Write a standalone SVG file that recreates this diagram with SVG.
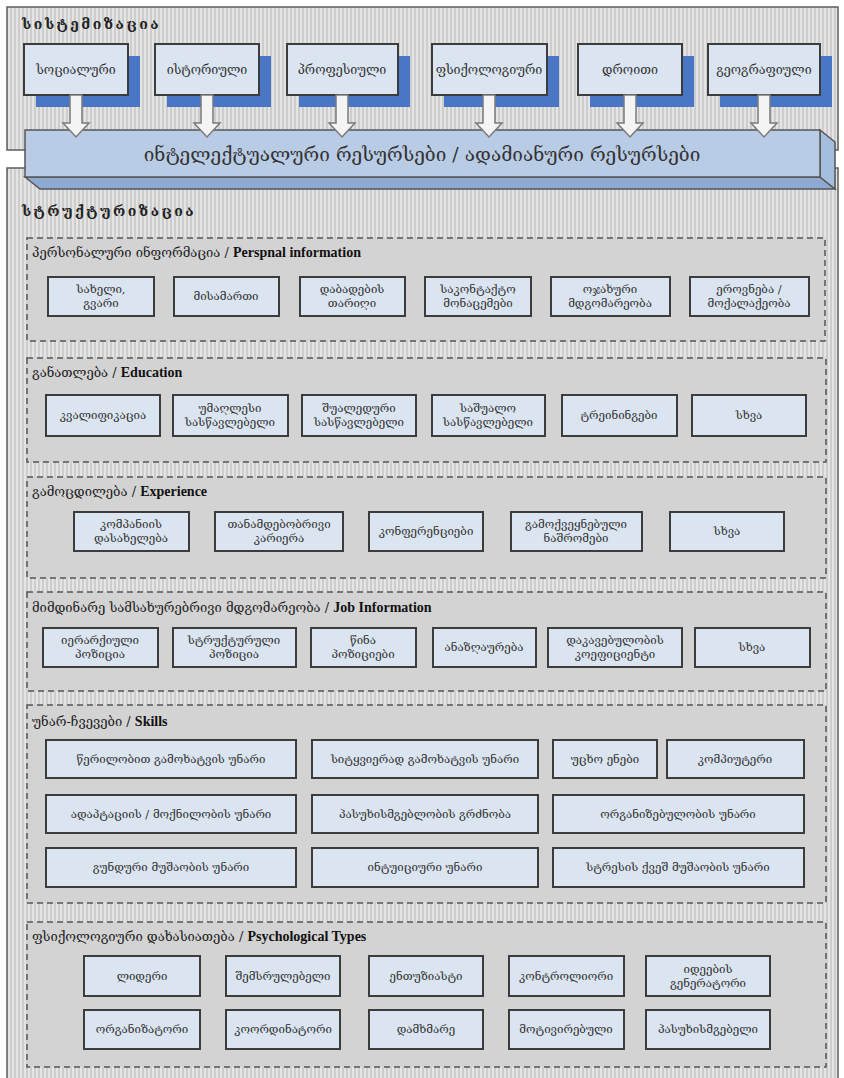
<svg xmlns="http://www.w3.org/2000/svg" width="844" height="1078" viewBox="0 0 844 1078">
<defs>
<pattern id="stripes" x="0" y="0" width="4" height="4" patternUnits="userSpaceOnUse">
<rect width="4" height="4" fill="#cdcdcd"/>
<rect x="0" width="2" height="4" fill="#e4e4e4"/>
</pattern>
<style>
.panel{fill:url(#stripes);stroke:#5e5e5e;stroke-width:1.5}
.sec{fill:#d3d3d3;stroke:#555;stroke-width:1.5;stroke-dasharray:6 4}
.box{fill:#dbe5f1;stroke:#3c3c3c;stroke-width:2}
.shadow{fill:#4a76c6}
.ka{font-family:"DejaVu Serif","DejaVu Sans",serif;fill:#333}
.bt{font-size:11.5px;text-anchor:middle}
.tt{font-size:12.5px;text-anchor:middle}
.title{font-size:13px;fill:#222}
.en{font-family:"Liberation Serif",serif;font-weight:bold;font-size:14px;fill:#111}
.head{font-size:14px;font-weight:bold;fill:#222;letter-spacing:2.5px}
.arrow{fill:#f4f4f4;stroke:#7a7a7a;stroke-width:1.5}
</style>
</defs>
<rect width="844" height="1078" fill="#ffffff"/>
<g id="top-panel">
<rect class="panel" x="7" y="7" width="831" height="143"/>
<text class="ka head" x="22" y="29">სისტემიზაცია</text>
</g>
<g id="bottom-panel">
<rect class="panel" x="7" y="168" width="831" height="920"/>
<text class="ka head" x="22" y="216">სტრუქტურიზაცია</text>
</g>
<g id="top-boxes">
<g id="t1"><rect class="shadow" x="36" y="56" width="104" height="51"/><rect class="box" x="24" y="44" width="104" height="51"/><text class="ka tt" x="76" y="74">სოციალური</text></g>
<g id="t2"><rect class="shadow" x="167" y="56" width="104" height="51"/><rect class="box" x="155" y="44" width="104" height="51"/><text class="ka tt" x="207" y="74">ისტორიული</text></g>
<g id="t3"><rect class="shadow" x="299" y="56" width="111" height="51"/><rect class="box" x="287" y="44" width="111" height="51"/><text class="ka tt" x="342" y="74">პროფესიული</text></g>
<g id="t4"><rect class="shadow" x="444" y="56" width="115" height="51"/><rect class="box" x="432" y="44" width="115" height="51"/><text class="ka tt" x="489" y="74">ფსიქოლოგიური</text></g>
<g id="t5"><rect class="shadow" x="590" y="56" width="104" height="51"/><rect class="box" x="578" y="44" width="104" height="51"/><text class="ka tt" x="630" y="74">დროითი</text></g>
<g id="t6"><rect class="shadow" x="720" y="56" width="112" height="51"/><rect class="box" x="708" y="44" width="112" height="51"/><text class="ka tt" x="764" y="74">გეოგრაფიული</text></g>
</g>
<g id="banner">
<polygon points="25,177 40,189 835,189 820,177" fill="#8eaad2" stroke="#555" stroke-width="1.5"/>
<polygon points="820,130 835,142 835,189 820,177" fill="#a4bede" stroke="#555" stroke-width="1.5"/>
<rect x="25" y="130" width="795" height="47" fill="#b9cce5" stroke="#555" stroke-width="1.5"/>
<text class="ka" x="422" y="161" font-size="19" text-anchor="middle" fill="#333">ინტელექტუალური რესურსები / ადამიანური რესურსები</text>
</g>
<g id="connectors">
<path class="arrow" d="M70,95 V123 H63 L76,137 L89,123 H82 V95 Z"/>
<path class="arrow" d="M201,95 V123 H194 L207,137 L220,123 H213 V95 Z"/>
<path class="arrow" d="M336,95 V123 H329 L342,137 L355,123 H348 V95 Z"/>
<path class="arrow" d="M483,95 V123 H476 L489,137 L502,123 H495 V95 Z"/>
<path class="arrow" d="M624,95 V123 H617 L630,137 L643,123 H636 V95 Z"/>
<path class="arrow" d="M758,95 V123 H751 L764,137 L777,123 H770 V95 Z"/>
</g>
<g id="sec-personal">
<rect class="sec" x="27" y="238" width="798" height="103"/>
<text class="ka title" x="32" y="257">პერსონალური ინფორმაცია / <tspan class="en">Perspnal information</tspan></text>
<rect class="box" x="48" y="277" width="106" height="39"/><text class="ka bt" x="101" y="293">სახელი,</text><text class="ka bt" x="101" y="307">გვარი</text>
<rect class="box" x="174" y="277" width="105" height="39"/><text class="ka bt" x="226" y="300">მისამართი</text>
<rect class="box" x="300" y="277" width="105" height="39"/><text class="ka bt" x="352" y="293">დაბადების</text><text class="ka bt" x="352" y="307">თარიღი</text>
<rect class="box" x="425" y="277" width="106" height="39"/><text class="ka bt" x="478" y="293">საკონტაქტო</text><text class="ka bt" x="478" y="307">მონაცემები</text>
<rect class="box" x="551" y="277" width="119" height="39"/><text class="ka bt" x="610" y="293">ოჯახური</text><text class="ka bt" x="610" y="307">მდგომარეობა</text>
<rect class="box" x="690" y="277" width="119" height="39"/><text class="ka bt" x="749" y="293">ეროვნება /</text><text class="ka bt" x="749" y="307">მოქალაქეობა</text>
</g>
<g id="sec-education">
<rect class="sec" x="27" y="358" width="799" height="104"/>
<text class="ka title" x="32" y="377">განათლება / <tspan class="en">Education</tspan></text>
<rect class="box" x="46" y="395" width="114" height="41"/><text class="ka bt" x="103" y="419">კვალიფიკაცია</text>
<rect class="box" x="173" y="395" width="115" height="41"/><text class="ka bt" x="230" y="412">უმაღლესი</text><text class="ka bt" x="230" y="426">სასწავლებელი</text>
<rect class="box" x="302" y="395" width="114" height="41"/><text class="ka bt" x="359" y="412">შუალედური</text><text class="ka bt" x="359" y="426">სასწავლებელი</text>
<rect class="box" x="432" y="395" width="113" height="41"/><text class="ka bt" x="488" y="412">საშუალო</text><text class="ka bt" x="488" y="426">სასწავლებელი</text>
<rect class="box" x="562" y="395" width="115" height="41"/><text class="ka bt" x="619" y="419">ტრეინინგები</text>
<rect class="box" x="692" y="395" width="114" height="41"/><text class="ka bt" x="749" y="419">სხვა</text>
</g>
<g id="sec-experience">
<rect class="sec" x="27" y="477" width="799" height="101"/>
<text class="ka title" x="32" y="496">გამოცდილება / <tspan class="en">Experience</tspan></text>
<rect class="box" x="74" y="512" width="115" height="39"/><text class="ka bt" x="131" y="528">კომპანიის</text><text class="ka bt" x="131" y="542">დასახელება</text>
<rect class="box" x="215" y="512" width="128" height="39"/><text class="ka bt" x="279" y="528">თანამდებობრივი</text><text class="ka bt" x="279" y="542">კარიერა</text>
<rect class="box" x="369" y="512" width="114" height="39"/><text class="ka bt" x="426" y="535">კონფერენციები</text>
<rect class="box" x="511" y="512" width="131" height="39"/><text class="ka bt" x="576" y="528">გამოქვეყნებული</text><text class="ka bt" x="576" y="542">ნაშრომები</text>
<rect class="box" x="670" y="512" width="114" height="39"/><text class="ka bt" x="727" y="535">სხვა</text>
</g>
<g id="sec-job">
<rect class="sec" x="27" y="592" width="799" height="99"/>
<text class="ka title" x="32" y="612">მიმდინარე სამსახურებრივი მდგომარეობა / <tspan class="en">Job Information</tspan></text>
<rect class="box" x="43" y="628" width="115" height="39"/><text class="ka bt" x="100" y="644">იერარქიული</text><text class="ka bt" x="100" y="658">პოზიცია</text>
<rect class="box" x="173" y="628" width="123" height="39"/><text class="ka bt" x="234" y="644">სტრუქტურული</text><text class="ka bt" x="234" y="658">პოზიცია</text>
<rect class="box" x="311" y="628" width="105" height="39"/><text class="ka bt" x="363" y="644">წინა</text><text class="ka bt" x="363" y="658">პოზიციები</text>
<rect class="box" x="433" y="628" width="103" height="39"/><text class="ka bt" x="484" y="651">ანაზღაურება</text>
<rect class="box" x="548" y="628" width="134" height="39"/><text class="ka bt" x="615" y="644">დაკავებულობის</text><text class="ka bt" x="615" y="658">კოეფიციენტი</text>
<rect class="box" x="695" y="628" width="115" height="39"/><text class="ka bt" x="752" y="651">სხვა</text>
</g>
<g id="sec-skills">
<rect class="sec" x="27" y="705" width="799" height="198"/>
<text class="ka title" x="32" y="726">უნარ-ჩვევები / <tspan class="en">Skills</tspan></text>
<rect class="box" x="46" y="740" width="250" height="38"/><text class="ka bt" x="171" y="763">წერილობით გამოხატვის უნარი</text>
<rect class="box" x="312" y="740" width="226" height="38"/><text class="ka bt" x="425" y="763">სიტყვიერად გამოხატვის უნარი</text>
<rect class="box" x="553" y="740" width="104" height="38"/><text class="ka bt" x="605" y="763">უცხო ენები</text>
<rect class="box" x="667" y="740" width="137" height="38"/><text class="ka bt" x="735" y="763">კომპიუტერი</text>
<rect class="box" x="46" y="795" width="250" height="38"/><text class="ka bt" x="171" y="818">ადაპტაციის / მოქნილობის უნარი</text>
<rect class="box" x="312" y="795" width="226" height="38"/><text class="ka bt" x="425" y="818">პასუხისმგებლობის გრძნობა</text>
<rect class="box" x="553" y="795" width="251" height="38"/><text class="ka bt" x="678" y="818">ორგანიზებულობის უნარი</text>
<rect class="box" x="46" y="848" width="250" height="39"/><text class="ka bt" x="171" y="871">გუნდური მუშაობის უნარი</text>
<rect class="box" x="312" y="848" width="226" height="39"/><text class="ka bt" x="425" y="871">ინტუიციური უნარი</text>
<rect class="box" x="553" y="848" width="251" height="39"/><text class="ka bt" x="678" y="871">სტრესის ქვეშ მუშაობის უნარი</text>
</g>
<g id="sec-psych">
<rect class="sec" x="27" y="922" width="799" height="145"/>
<text class="ka title" x="32" y="941">ფსიქოლოგიური დახასიათება / <tspan class="en">Psychological Types</tspan></text>
<rect class="box" x="84" y="956" width="116" height="40"/><text class="ka bt" x="142" y="980">ლიდერი</text>
<rect class="box" x="226" y="956" width="114" height="40"/><text class="ka bt" x="283" y="980">შემსრულებელი</text>
<rect class="box" x="369" y="956" width="114" height="40"/><text class="ka bt" x="426" y="980">ენთუზიასტი</text>
<rect class="box" x="509" y="956" width="115" height="40"/><text class="ka bt" x="566" y="980">კონტროლიორი</text>
<rect class="box" x="646" y="956" width="124" height="40"/><text class="ka bt" x="708" y="973">იდეების</text><text class="ka bt" x="708" y="987">გენერატორი</text>
<rect class="box" x="84" y="1010" width="116" height="39"/><text class="ka bt" x="142" y="1033">ორგანიზატორი</text>
<rect class="box" x="226" y="1010" width="114" height="39"/><text class="ka bt" x="283" y="1033">კოორდინატორი</text>
<rect class="box" x="369" y="1010" width="114" height="39"/><text class="ka bt" x="426" y="1033">დამხმარე</text>
<rect class="box" x="509" y="1010" width="115" height="39"/><text class="ka bt" x="566" y="1033">მოტივირებული</text>
<rect class="box" x="646" y="1010" width="124" height="39"/><text class="ka bt" x="708" y="1033">პასუხისმგებელი</text>
</g>
</svg>
